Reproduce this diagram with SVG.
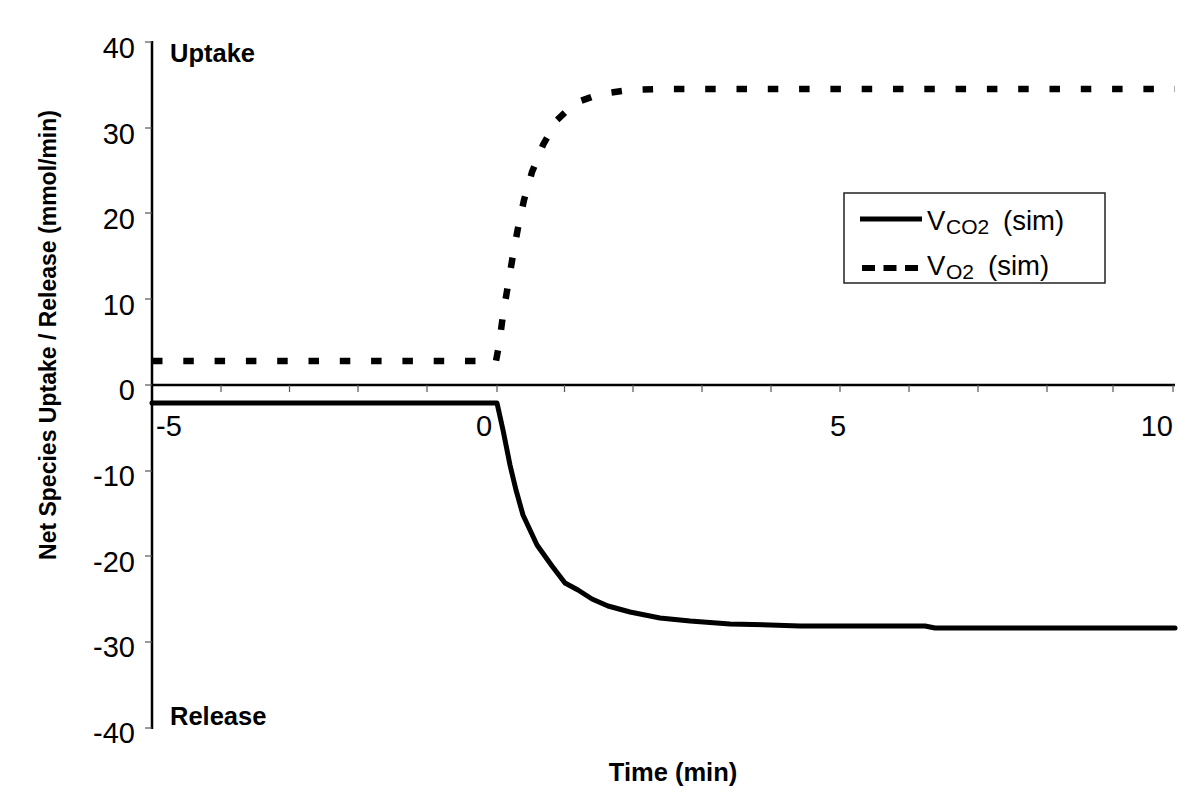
<svg xmlns="http://www.w3.org/2000/svg" width="1200" height="794" viewBox="0 0 1200 794">
<style>
.tick{stroke:#555;stroke-width:1.2;fill:none}
.axis{stroke:#000;stroke-width:2.5;fill:none}
.num{font-family:"Liberation Sans",Arial,sans-serif;font-size:29px;fill:#000}
.bold{font-family:"Liberation Sans",Arial,sans-serif;font-weight:bold;font-size:25.5px;fill:#000}
.leg{font-family:"Liberation Sans",Arial,sans-serif;font-size:27.5px;fill:#000}
.sub{font-size:21px}
.co2{stroke:#000;stroke-width:5;fill:none;stroke-linejoin:round;stroke-linecap:round}
.o2{stroke:#000;stroke-width:6.5;fill:none;stroke-dasharray:10.5 20.8;stroke-linejoin:miter}
</style>
<rect width="1200" height="794" fill="#fff"/>
<g id="axes">
<line class="axis" x1="152" y1="41" x2="152" y2="729"/>
<line class="axis" x1="152" y1="385" x2="1175" y2="385"/>
<g class="tick">
<line x1="145" y1="42" x2="152" y2="42"/><line x1="145" y1="128" x2="152" y2="128"/><line x1="145" y1="213" x2="152" y2="213"/><line x1="145" y1="299" x2="152" y2="299"/><line x1="145" y1="385" x2="152" y2="385"/><line x1="145" y1="471" x2="152" y2="471"/><line x1="145" y1="556" x2="152" y2="556"/><line x1="145" y1="642" x2="152" y2="642"/><line x1="145" y1="728" x2="152" y2="728"/>
<line x1="221" y1="385" x2="221" y2="392"/><line x1="289.5" y1="385" x2="289.5" y2="392"/><line x1="358" y1="385" x2="358" y2="392"/><line x1="427" y1="385" x2="427" y2="392"/><line x1="497" y1="385" x2="497" y2="392"/><line x1="564.5" y1="385" x2="564.5" y2="392"/><line x1="633" y1="385" x2="633" y2="392"/><line x1="702" y1="385" x2="702" y2="392"/><line x1="771" y1="385" x2="771" y2="392"/><line x1="840" y1="385" x2="840" y2="392"/><line x1="909" y1="385" x2="909" y2="392"/><line x1="978" y1="385" x2="978" y2="392"/><line x1="1047" y1="385" x2="1047" y2="392"/><line x1="1113" y1="385" x2="1113" y2="392"/><line x1="1173" y1="385" x2="1173" y2="392"/>
</g>
<g class="num" text-anchor="end">
<text x="135" y="58">40</text><text x="135" y="144">30</text><text x="135" y="229">20</text><text x="135" y="315">10</text><text x="135" y="400">0</text><text x="135" y="486">-10</text><text x="135" y="572">-20</text><text x="135" y="657">-30</text><text x="135" y="743">-40</text>
</g>
<g class="num">
<text x="156" y="436">-5</text><text x="484" y="436" text-anchor="middle">0</text><text x="838" y="436" text-anchor="middle">5</text><text x="1173" y="436" text-anchor="end">10</text>
</g>
<text class="bold" x="170" y="62">Uptake</text>
<text class="bold" x="170" y="725">Release</text>
<text class="bold" x="673" y="781" text-anchor="middle">Time (min)</text>
<text class="bold" style="font-size:23px" transform="translate(56,335) rotate(-90)" text-anchor="middle">Net Species Uptake / Release (mmol/min)</text>
</g>
<g id="series">
<polyline id="vo2" class="o2" points="152,361 496,361 499,345 503,315 508,285 513,255 518,228 524,200 532,172 543,145 557,120 575,103 600,94 630,90 660,89 1175,89"/>
<polyline id="vco2" class="co2" points="152,403 497,403 503,430 510,465 516,490 523,515 537,545 552,566 565,583 578,590 592,599 608,606 630,612 660,618 690,621 730,624 770,625 800,626 925,626 935,628 1175,628"/>
</g>
<g id="legend">
<rect x="844" y="193" width="261" height="90" fill="#fff" stroke="#222" stroke-width="1.5"/>
<line x1="860" y1="219" x2="922" y2="219" stroke="#000" stroke-width="5"/>
<line x1="862" y1="268" x2="920" y2="268" stroke="#000" stroke-width="6" stroke-dasharray="13 8.5"/>
<text class="leg" x="927" y="230">V<tspan class="sub" x="946" dy="4">CO2</tspan><tspan x="1003" dy="-4">(sim)</tspan></text>
<text class="leg" x="927" y="275">V<tspan class="sub" x="946" dy="4">O2</tspan><tspan x="988" dy="-4">(sim)</tspan></text>
</g>
</svg>
